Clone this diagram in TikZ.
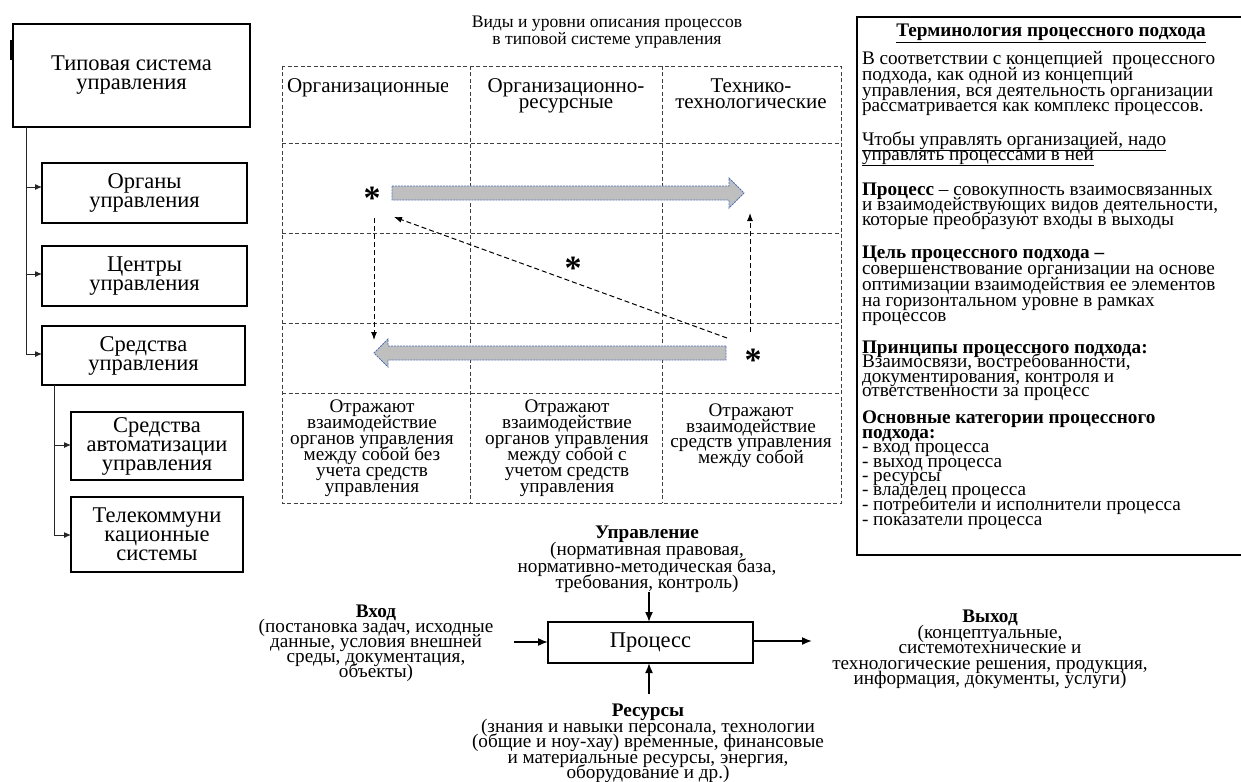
\documentclass[tikz,border=0pt]{standalone}
\usepackage{fontspec}
\setmainfont{Liberation Serif}
\usetikzlibrary{arrows.meta}
\newcommand\fsz[2]{\fontsize{#1}{#2}\selectfont\lineskiplimit=-50pt\lineskip=0pt}
\newcommand\TL[4]{\node[body,anchor=base west] (#1) at (#2,#3) {#4};}
\newcommand\TC[4]{\node[body,anchor=base] (#1) at (#2,#3) {#4};}
\definecolor{arrgray}{RGB}{191,191,191}
\definecolor{arrblue}{RGB}{79,113,180}
\begin{document}
\begin{tikzpicture}[x=1pt,y=-1pt,
  every node/.style={inner sep=0pt,outer sep=0pt},
  body/.style={font=\fsz{19.2}{15}},
  hdr/.style={font=\fsz{21}{16}},
  ttl/.style={font=\fsz{17.6}{17}},
  lbox/.style={draw,line width=2pt,align=center,font=\fsz{22.5}{19}},
  tree/.style={line width=1pt,draw=black!85},
  tarrow/.style={tree,-{Latex[length=7pt,width=6pt]}},
  tdash/.style={line width=0.9pt,draw=black!75,dash pattern=on 4pt off 2.5pt},
  darrow/.style={line width=1pt,dash pattern=on 5pt off 3pt,-{Latex[length=8pt,width=6pt]}},
  blockarr/.style={fill=arrgray,draw=arrblue,line width=0.9pt,dash pattern=on 2pt off 1pt},
  star/.style={font=\fontsize{34}{34}\selectfont\bfseries,anchor=base},
  parrow/.style={line width=1.6pt,-{Latex[length=10pt,width=8pt]}}
]
\useasboundingbox (0,0) rectangle (1241,781);
\fill[white] (0,0) rectangle (1241,781);

% ---------- left tree ----------
\node[lbox,line width=2.5pt,minimum width=237,minimum height=103] (tsu) at (131.5,75.5) {Типовая система\\управления};
\draw[line width=2.5pt] (11,40) -- (11,60);
\node[lbox,minimum width=205,minimum height=60] (org) at (144.5,193) {Органы\\управления};
\node[lbox,minimum width=205,minimum height=60] (cen) at (144.5,276) {Центры\\управления};
\node[lbox,minimum width=203,minimum height=59] (sre) at (143.5,355.5) {Средства\\управления};
\node[lbox,minimum width=172,minimum height=68] (avt) at (157,446) {Средства\\автоматизации\\управления};
\node[lbox,minimum width=172,minimum height=75] (tel) at (157,534.5) {Телекоммуни\\кационные\\системы};
\coordinate (j1) at (26,187);
\coordinate (j2) at (26,274);
\coordinate (j3) at (26,354);
\coordinate (k1) at (54,445);
\coordinate (k2) at (54,535);
\draw[tree] (tsu.south -| j1) -- (j3);
\draw[tarrow] (j1) -- (j1 -| org.west);
\draw[tarrow] (j2) -- (j2 -| cen.west);
\draw[tarrow] (j3) -- (j3 -| sre.west);
\draw[tree] (sre.south -| k1) -- (k2);
\draw[tarrow] (k1) -- (k1 -| avt.west);
\draw[tarrow] (k2) -- (k2 -| tel.west);

% ---------- title ----------
\node[ttl,anchor=base] (ti1) at (607,28) {Виды и уровни описания процессов};
\node[ttl,anchor=base] (ti2) at (607,45) {в типовой системе управления};

% ---------- table ----------
\draw[tdash] (282,66) rectangle (841,503);
\draw[tdash] (470,66) -- (470,503);
\draw[tdash] (662,66) -- (662,503);
\foreach \yy in {143,233,323,393} \draw[tdash] (282,\yy) -- (841,\yy);

\begin{scope}
\clip (283,67) rectangle (447,130);
\node[hdr,anchor=base west] (h1) at (287,93) {Организационные};
\end{scope}
\node[hdr,anchor=base] (h2a) at (566,93) {Организационно-};
\node[hdr,anchor=base] (h2b) at (566,109) {ресурсные};
\node[hdr,anchor=base] (h3a) at (751,93) {Технико-};
\node[hdr,anchor=base] (h3b) at (751,109) {технологические};

% block arrows
\draw[blockarr] (392,186) -- (729,186) -- (729,178) -- (744,193) -- (729,208) -- (729,200) -- (392,200) -- cycle;
\draw[blockarr] (726,346) -- (388,346) -- (388,339) -- (374,353) -- (388,367) -- (388,360) -- (726,360) -- cycle;

% stars
\node[star] (s1) at (372,209) {*};
\node[star] (s2) at (573,279) {*};
\node[star] (s3) at (753,371) {*};

% dashed arrows
\coordinate (d1a) at (374,218);
\coordinate (d1b) at (374,340);
\coordinate (d2a) at (750,332);
\coordinate (d2b) at (750,213);
\coordinate (d3a) at (727,338);
\coordinate (d3b) at (394,217);
\draw[darrow] (d1a) -- (d1b);
\draw[darrow] (d2a) -- (d2b);
\draw[darrow] (d3a) -- (d3b);

% bottom row texts
\TC{a1}{372}{412}{Отражают}
\TC{a2}{372}{428}{взаимодействие}
\TC{a3}{372}{444}{органов управления}
\TC{a4}{372}{460}{между собой без}
\TC{a5}{372}{476}{учета средств}
\TC{a6}{372}{492}{управления}
\TC{b1}{567}{412}{Отражают}
\TC{b2}{567}{428}{взаимодействие}
\TC{b3}{567}{444}{органов управления}
\TC{b4}{567}{460}{между собой с}
\TC{b5}{567}{476}{учетом средств}
\TC{b6}{567}{492}{управления}
\TC{c1}{751}{416}{Отражают}
\TC{c2}{751}{432}{взаимодействие}
\TC{c3}{751}{447}{средств управления}
\TC{c4}{751}{463}{между собой}

% ---------- terminology box ----------
\draw[line width=1.8pt] (857,17) rectangle (1260,555);
\TC{tt}{1051}{37}{\textbf{\underline{Терминология процессного подхода}}}
\TL{p11}{862}{65}{В соответствии с концепцией~ процессного}
\TL{p12}{862}{81}{подхода, как одной из концепций}
\TL{p13}{862}{97}{управления, вся деятельность организации}
\TL{p14}{862}{112}{рассматривается как комплекс процессов.}
\TL{p21}{862}{145}{\underline{Чтобы управлять организацией, надо}}
\TL{p22}{862}{160}{\underline{управлять процессами в ней}}
\TL{p31}{862}{195}{\textbf{Процесс} – совокупность взаимосвязанных}
\TL{p32}{862}{210}{и взаимодействующих видов деятельности,}
\TL{p33}{862}{225}{которые преобразуют входы в выходы}
\TL{p41}{862}{258}{\textbf{Цель процессного подхода –}}
\TL{p42}{862}{274}{совершенствование организации на основе}
\TL{p43}{862}{290}{оптимизации взаимодействия ее элементов}
\TL{p44}{862}{306}{на горизонтальном уровне в рамках}
\TL{p45}{862}{321}{процессов}
\TL{p51}{862}{353}{\textbf{Принципы процессного подхода:}}
\TL{p52}{862}{367}{Взаимосвязи, востребованности,}
\TL{p53}{862}{382}{документирования, контроля и}
\TL{p54}{862}{396}{ответственности за процесс}
\TL{p61}{862}{423}{\textbf{Основные категории процессного}}
\TL{p62}{862}{438}{\textbf{подхода:}}
\TL{p63}{862}{452}{- вход процесса}
\TL{p64}{862}{467}{- выход процесса}
\TL{p65}{862}{481}{- ресурсы}
\TL{p66}{862}{495}{- владелец процесса}
\TL{p67}{862}{510}{- потребители и исполнители процесса}
\TL{p68}{862}{525}{- показатели процесса}

% ---------- process diagram ----------
\node[draw,line width=2pt,minimum width=205,minimum height=41,font=\fsz{22.5}{19}] (proc) at (650.5,642.5) {Процесс};

\TC{u1}{647}{538}{\textbf{Управление}}
\TC{u2}{647}{555}{(нормативная правовая,}
\TC{u3}{647}{572}{нормативно-методическая база,}
\TC{u4}{647}{588}{требования, контроль)}

\TC{v1}{376}{617}{\textbf{Вход}}
\TC{v2}{376}{632}{(постановка задач, исходные}
\TC{v3}{376}{647}{данные, условия внешней}
\TC{v4}{376}{662}{среды, документация,}
\TC{v5}{376}{677}{объекты)}

\TC{w1}{990}{622}{\textbf{Выход}}
\TC{w2}{990}{638}{(концептуальные,}
\TC{w3}{990}{653}{системотехнические и}
\TC{w4}{990}{669}{технологические решения, продукция,}
\TC{w5}{990}{684}{информация, документы, услуги)}

\TC{r1}{648}{716}{\textbf{Ресурсы}}
\TC{r2}{648}{732}{(знания и навыки персонала, технологии}
\TC{r3}{648}{747}{(общие и ноу-хау) временные, финансовые}
\TC{r4}{648}{763}{и материальные ресурсы, энергия,}
\TC{r5}{648}{778}{оборудование и др.)}

\coordinate (upin) at (649,592);
\coordinate (inL) at (514,642);
\coordinate (outR) at (812,641);
\coordinate (resB) at (649,694);
\draw[parrow] (upin) -- (upin |- proc.north);
\draw[parrow] (inL) -- (inL -| proc.west);
\draw[parrow] (outR -| proc.east) -- (outR);
\draw[parrow] (resB) -- (resB |- proc.south);
\end{tikzpicture}
\end{document}
